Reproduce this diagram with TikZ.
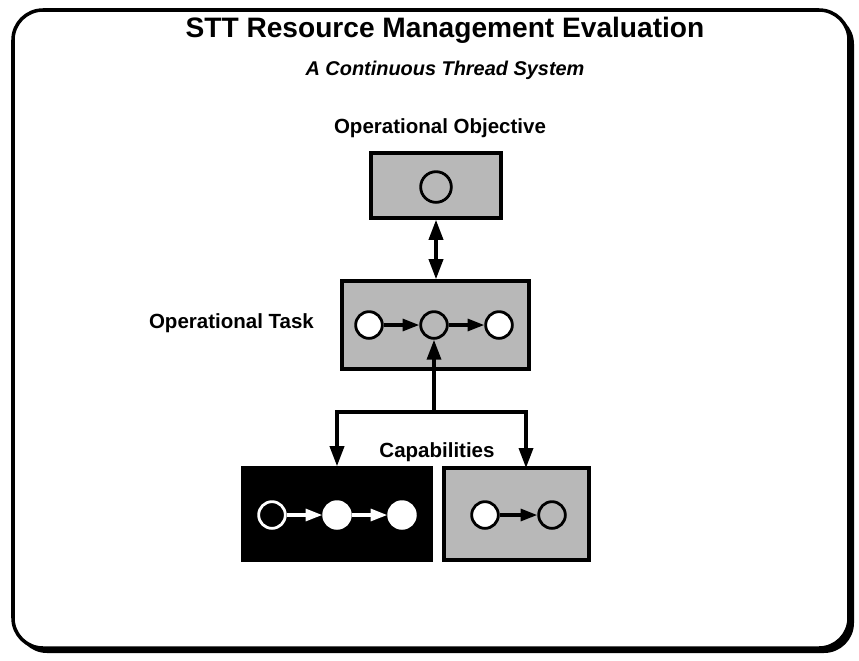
\documentclass[tikz,border=0pt]{standalone}
\usepackage{fontspec}
\setmainfont{Liberation Sans}
\usetikzlibrary{arrows.meta}

\begin{document}
\begin{tikzpicture}[x=0.03cm,y=-0.03cm,
                    panel/.style={draw=black,line width=3pt,fill=black!28,inner sep=0pt},
                    darkpanel/.style={draw=black,line width=3pt,fill=black,inner sep=0pt},
                    dot/.style={circle,draw=black,line width=2.4pt,fill=white,minimum size=0.8cm,inner sep=0pt},
                    label/.style={font=\fontsize{17.5}{20}\selectfont\bfseries},
                    link/.style={line width=3pt,-{Triangle[length=0.6cm,width=0.42cm]}},
                    step link/.style={line width=2.6pt,-{Triangle[length=0.5cm,width=0.36cm]}}]
  \useasboundingbox (0,0) rectangle (859,660);

  % frame with shadow
  \fill[black] (17,14) [rounded corners=0.9cm] rectangle (854,653);
  \draw[line width=3pt,fill=white] (13,10) [rounded corners=0.9cm] rectangle (849,648);

  \node[font=\fontsize{24}{28}\selectfont\bfseries] (title) at (445,30) {STT Resource Management Evaluation};
  \node[font=\fontsize{17}{20}\selectfont\bfseries\itshape] (subtitle) at (445,70) {A Continuous Thread System};

  % objective
  \node[label] (objlabel) at (440,128) {Operational Objective};
  \node[panel,minimum width=3.9cm,minimum height=1.95cm] (objbox) at (436,185.5) {};
  \node[dot,fill=black!28,minimum size=0.92cm] (obj) at (436,187) {};

  % task
  \node[label,anchor=east] (tasklabel) at (318,323) {Operational Task};
  \node[panel,minimum width=5.6cm,minimum height=2.64cm] (taskbox) at (435.5,325) {};
  \node[dot] (t1) at (369,325) {};
  \node[dot,fill=black!28] (t2) at (434,325) {};
  \node[dot] (t3) at (499,325) {};
  \draw[step link] (t1) -- (t2);
  \draw[step link] (t2) -- (t3);

  \draw[link,{Triangle[length=0.6cm,width=0.42cm]}-{Triangle[length=0.6cm,width=0.42cm]}]
    (objbox.south) -- (objbox.south |- taskbox.north);

  % capabilities
  \node[label] (caplabel) at (437,452) {Capabilities};
  \node[darkpanel,minimum width=5.64cm,minimum height=2.76cm] (capA) at (337,514) {};
  \node[panel,minimum width=4.35cm,minimum height=2.76cm] (capB) at (516.5,514) {};
  \node[dot,draw=white,fill=black] (a1) at (272,515) {};
  \node[dot,draw=white] (a2) at (337,515) {};
  \node[dot,draw=white] (a3) at (402,515) {};
  \draw[step link,white] (a1) -- (a2);
  \draw[step link,white] (a2) -- (a3);
  \node[dot] (b1) at (485,515) {};
  \node[dot,fill=black!28] (b2) at (552,515) {};
  \draw[step link] (b1) -- (b2);

  \coordinate (split) at (434,412);
  \coordinate (rdrop) at (526,468);
  \draw[link] (split) -- (t2);
  \draw[link,{Triangle[length=0.6cm,width=0.42cm]}-{Triangle[length=0.6cm,width=0.42cm]}]
    (capA.north) |- (split) -| (rdrop);
\end{tikzpicture}
\end{document}
